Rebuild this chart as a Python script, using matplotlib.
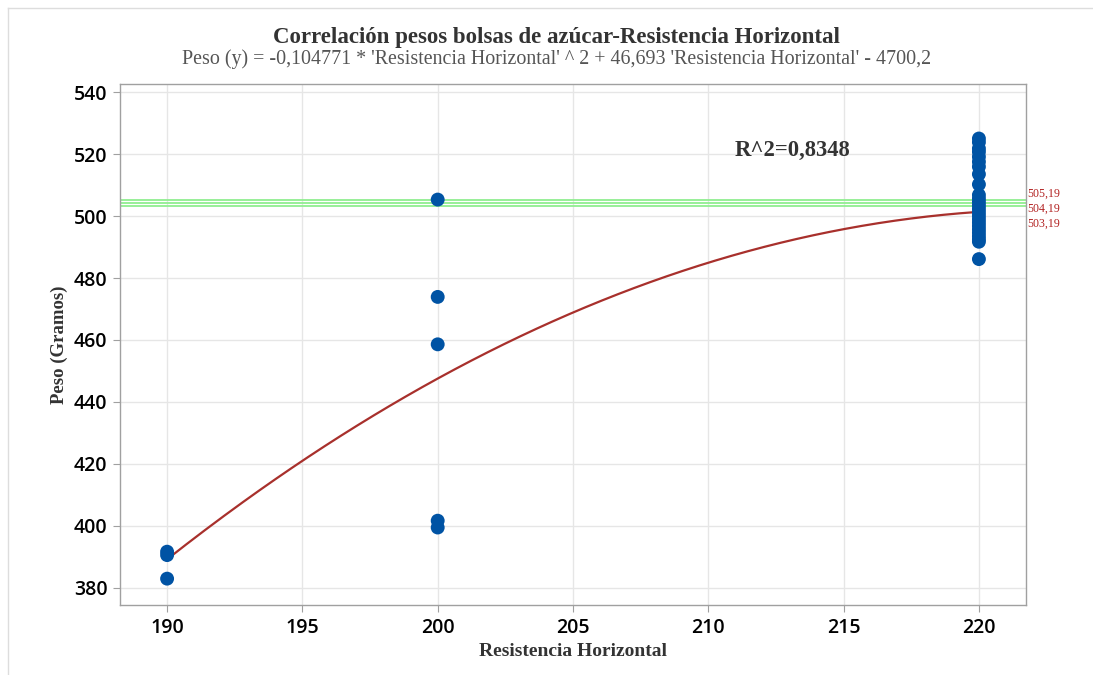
import matplotlib
matplotlib.use("Agg")
import matplotlib.pyplot as plt
import numpy as np
from matplotlib.lines import Line2D

# ---- data ----
x190 = [190, 190, 190]
y190 = [391.7, 390.6, 383.0]
x200 = [200, 200, 200, 200, 200]
y200 = [505.3, 473.9, 458.6, 401.7, 399.5]
y220 = [525.0, 523.8, 521.8, 520.7, 519.1, 517.5, 515.9, 513.5, 510.2,
        506.8, 505.6, 504.5, 503.4, 502.3, 501.2, 500.1, 499.0, 497.9,
        496.8, 495.7, 494.6, 493.5, 492.5, 491.7, 486.1]
x220 = [220] * len(y220)
xs = x190 + x200 + x220
ys = y190 + y200 + y220

coef = [-0.104771, 46.693, -4700.2]   # quadratic fit coefficients
ref_lines = [505.19, 504.19, 503.19]
ref_labels = ["505,19", "504,19", "503,19"]
ref_offsets = [6, -6, -18]             # label pixel offsets

xticks = [190, 195, 200, 205, 210, 215, 220]
yticks = [380, 400, 420, 440, 460, 480, 500, 520, 540]

title = "Correlación pesos bolsas de azúcar-Resistencia Horizontal"
subtitle = ("Peso (y) = -0,104771 * 'Resistencia Horizontal' ^ 2 + 46,693 "
            "'Resistencia Horizontal' - 4700,2")
r2_text = "R^2=0,8348"

# ---- figure ----
fig = plt.figure(figsize=(10.93, 6.75), dpi=100)
ax = fig.add_axes([0.1098, 0.1037, 0.8289, 0.7719])

serif = "Liberation Serif"
sans = "Open Sans"

ax.set_xlim(188.26, 221.74)
ax.set_ylim(374.5, 542.6)
ax.set_xticks(xticks)
ax.set_yticks(yticks)
ax.grid(True, color="#e6e6e6", linewidth=1.0, zorder=0)
ax.set_axisbelow(True)
for s in ax.spines.values():
    s.set_color("#a0a0a0")
    s.set_linewidth(1.0)
ax.tick_params(axis="both", length=5, color="#a0a0a0", labelsize=14,
               labelcolor="#000000", pad=4)
for lab in ax.get_xticklabels() + ax.get_yticklabels():
    lab.set_fontfamily(sans)
    lab.set_fontweight("semibold")

# reference lines
for v in ref_lines:
    ax.axhline(v, color="#90ee90", linewidth=1.3, zorder=1)
for v, lab, off in zip(ref_lines, ref_labels, ref_offsets):
    ax.annotate(lab, xy=(1.0, v), xycoords=ax.get_yaxis_transform(),
                xytext=(1, off), textcoords="offset pixels",
                ha="left", va="center", fontsize=8.6, family=serif,
                color="#b22222", annotation_clip=False)

# fitted curve
xf = np.linspace(190, 220, 300)
yf = np.polyval(coef, xf)
ax.plot(xf, yf, color="#a8302c", linewidth=1.6, zorder=2)

# points
ax.scatter(xs, ys, s=100, color="#0053a4", edgecolors="none", zorder=3)

ax.text(213.1, 521.3, r2_text, ha="center", va="center", fontsize=16.3,
        fontweight="bold", family=serif, color="#333333")

ax.set_xlabel("Resistencia Horizontal", family=serif, fontweight="bold",
              fontsize=14, color="#333333", labelpad=4)
ax.set_ylabel("Peso (Gramos)", family=serif, fontweight="bold",
              fontsize=13.5, color="#333333", labelpad=4)

fig.text(0.509, 0.944, title, ha="center", va="center", family=serif,
         fontweight="bold", fontsize=16.5, color="#333333")
fig.text(0.509, 0.912, subtitle, ha="center", va="center", family=serif,
         fontsize=14.4, color="#555555")

# light frame lines (top and left)
fig.add_artist(Line2D([8 / 1093, 1.0], [1 - 8 / 675, 1 - 8 / 675],
                      transform=fig.transFigure, color="#dddddd", linewidth=1))
fig.add_artist(Line2D([8 / 1093, 8 / 1093], [0, 1 - 8 / 675],
                      transform=fig.transFigure, color="#dddddd", linewidth=1))

fig.savefig("out.png", dpi=100, facecolor="white")
